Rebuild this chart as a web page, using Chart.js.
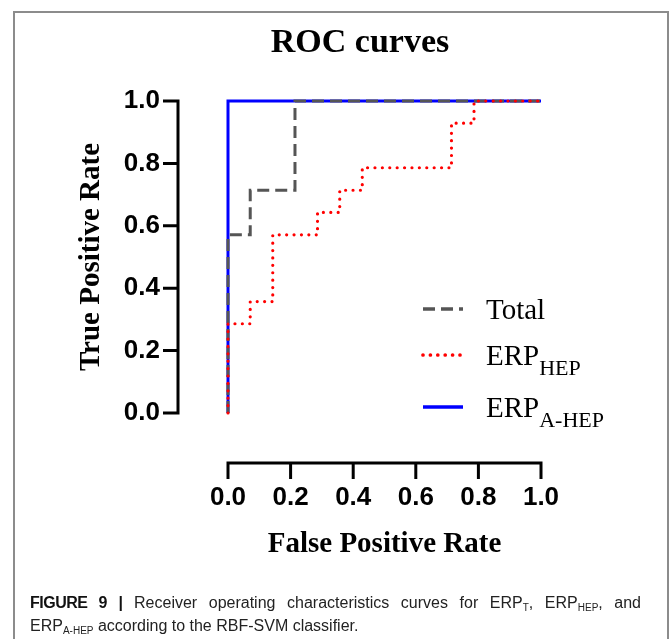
<!DOCTYPE html>
<html>
<head>
<meta charset="utf-8">
<script src="https://cdn.jsdelivr.net/npm/chart.js@4/dist/chart.umd.min.js"></script>
<style>
  html, body { margin: 0; padding: 0; background: #fff; }
  #wrap { position: relative; width: 670px; height: 639px; overflow: hidden; }
  #frame { position: absolute; left: 13px; top: 11px; width: 652px; height: 700px;
           border: 2px solid #8c8c8c; box-sizing: content-box; }
  #c { position: absolute; left: 0; top: 0; }
  #caption { position: absolute; left: 30px; top: 592px; width: 611px;
             font-family: "Liberation Sans", Arial, sans-serif; font-size: 16px;
             line-height: 21px; color: #222; white-space: nowrap; }
  #caption .l1 { text-align: justify; text-align-last: justify; }
  #caption b { font-weight: bold; color: #111; letter-spacing: -0.5px; }
  #caption sub { font-size: 10px; vertical-align: baseline; position: relative; top: 3px; }
</style>
</head>
<body>
<div id="wrap">
  <div id="frame"></div>
  <canvas id="c" width="670" height="639"></canvas>
  <div id="caption"><div class="l1"><b>FIGURE 9</b> <b>|</b> Receiver operating characteristics curves for ERP<sub>T</sub>, ERP<sub>HEP</sub>, and</div><div>ERP<sub>A-HEP</sub> according to the RBF-SVM classifier.</div></div>
</div>
<script>
// ---- data ----
const tickLabels = ['0.0', '0.2', '0.4', '0.6', '0.8', '1.0'];

const totalFpr = [0, 0, 0.071, 0.071, 0.214, 0.214, 1];
const totalTpr = [0, 0.571, 0.571, 0.714, 0.714, 1, 1];

const hepFpr = [0, 0, 0.071, 0.071, 0.143, 0.143, 0.286, 0.286, 0.357, 0.357, 0.429, 0.429, 0.714, 0.714, 0.786, 0.786, 1];
const hepTpr = [0, 0.286, 0.286, 0.357, 0.357, 0.571, 0.571, 0.643, 0.643, 0.714, 0.714, 0.786, 0.786, 0.929, 0.929, 1, 1];

const aHepFpr = [0, 0, 1];
const aHepTpr = [0, 1, 1];

const seriesNames = ['Total', 'ERP_HEP', 'ERP_A-HEP'];
const legendMain = ['Total', 'ERP', 'ERP'];
const legendSub = ['', 'HEP', 'A-HEP'];

function pts(xs, ys) { return xs.map((x, i) => ({ x: x, y: ys[i] })); }

// ---- plugins ----
const AXIS_OFFSET = 50;
const prismAxes = {
  id: 'prismAxes',
  afterDraw(chart) {
    const ctx = chart.ctx, xs = chart.scales.x, ys = chart.scales.y;
    const ca = chart.chartArea;
    ctx.save();
    ctx.strokeStyle = '#000';
    ctx.lineWidth = 3;
    ctx.lineCap = 'butt';
    // x axis
    const y0 = ca.bottom + AXIS_OFFSET;
    const xa = xs.getPixelForValue(xs.min), xb = xs.getPixelForValue(xs.max);
    ctx.beginPath();
    ctx.moveTo(xa - 1.5, y0); ctx.lineTo(xb + 1.5, y0);
    xs.ticks.forEach(t => {
      const p = xs.getPixelForValue(t.value);
      ctx.moveTo(p, y0); ctx.lineTo(p, y0 + 16);
    });
    ctx.stroke();
    // y axis
    const x0 = ca.left - AXIS_OFFSET;
    const ya = ys.getPixelForValue(ys.max), yb = ys.getPixelForValue(ys.min);
    ctx.beginPath();
    ctx.moveTo(x0, ya - 1.5); ctx.lineTo(x0, yb + 1.5);
    ys.ticks.forEach(t => {
      const p = ys.getPixelForValue(t.value);
      ctx.moveTo(x0, p); ctx.lineTo(x0 - 15, p);
    });
    ctx.stroke();
    ctx.restore();
  }
};

const subLegend = {
  id: 'subLegend',
  afterDraw(chart) {
    const ctx = chart.ctx, ca = chart.chartArea;
    const rows = [208, 254, 306];
    const sx = ca.left + 195, ex = ca.left + 235, tx = ca.left + 258;
    ctx.save();
    chart.data.datasets.forEach((ds, i) => {
      const y = ca.top + rows[i];
      ctx.beginPath();
      ctx.strokeStyle = ds.borderColor;
      ctx.lineWidth = ds.borderWidth + 0.5;
      ctx.lineCap = ds.borderCapStyle || 'butt';
      ctx.setLineDash(ds.borderDash || []);
      ctx.moveTo(sx, y); ctx.lineTo(ex, y);
      ctx.stroke();
      ctx.setLineDash([]);
      ctx.fillStyle = '#000';
      ctx.textBaseline = 'alphabetic';
      ctx.textAlign = 'left';
      ctx.font = '29px "Liberation Serif", "Times New Roman", serif';
      ctx.fillText(legendMain[i], tx, y + 10);
      if (legendSub[i]) {
        const w = ctx.measureText(legendMain[i]).width;
        ctx.font = '22px "Liberation Serif", "Times New Roman", serif';
        ctx.fillText(legendSub[i], tx + w, y + 20);
      }
    });
    ctx.restore();
  }
};

const tickFont = { family: '"Liberation Sans", Arial, sans-serif', size: 26, weight: 'bold' };
const titleFont = { family: '"Liberation Serif", "Times New Roman", serif', size: 29, weight: 'bold' };

new Chart(document.getElementById('c'), {
  type: 'line',
  data: {
    datasets: [
      { label: seriesNames[0], data: pts(totalFpr, totalTpr), borderColor: '#555555', borderWidth: 3,
        borderDash: [12, 6], order: 2 },
      { label: seriesNames[1], data: pts(hepFpr, hepTpr), borderColor: '#ff0000', borderWidth: 3.2,
        borderDash: [0, 7.4], borderCapStyle: 'round', order: 1 },
      { label: seriesNames[2], data: pts(aHepFpr, aHepTpr), borderColor: '#0000ff', borderWidth: 3,
        order: 3 }
    ]
  },
  options: {
    responsive: false,
    animation: false,
    devicePixelRatio: 1,
    layout: { padding: { left: 50, right: 0, top: 0, bottom: 64 } },
    elements: { point: { radius: 0 }, line: { tension: 0, fill: false } },
    datasets: { line: { clip: 10 } },
    plugins: {
      legend: { display: false },
      tooltip: { enabled: false },
      title: {
        display: true, text: 'ROC curves', color: '#000',
        font: { family: '"Liberation Serif", "Times New Roman", serif', size: 34, weight: 'bold' },
        padding: { top: 23, bottom: 37.2 }
      }
    },
    scales: {
      x: {
        type: 'linear', min: 0, max: 1, position: 'bottom',
        grid: { display: false, drawTicks: false }, border: { display: false },
        ticks: { stepSize: 0.2, padding: 69.5, color: '#000', font: tickFont,
                 callback: (v, i) => tickLabels[i] },
        title: { display: true, text: 'False Positive Rate', color: '#000', font: titleFont,
                 padding: { top: 0, bottom: 12.6 } },
        afterFit: s => { s.height = 162; }
      },
      y: {
        type: 'linear', min: 0, max: 1, position: 'left',
        grid: { display: false, drawTicks: false }, border: { display: false },
        ticks: { stepSize: 0.2, padding: 68, color: '#000', font: tickFont,
                 callback: (v, i) => tickLabels[i] },
        title: { display: true, text: 'True Positive Rate', color: '#000', font: titleFont,
                 padding: { top: 24.6, bottom: 0 } },
        afterFit: s => { s.width = 178; }
      },
      y2: {
        type: 'linear', min: 0, max: 1, position: 'right', display: true,
        grid: { display: false, drawTicks: false }, border: { display: false },
        ticks: { display: false },
        afterFit: s => { s.width = 129; }
      }
    }
  },
  plugins: [prismAxes, subLegend]
});
</script>
</body>
</html>
